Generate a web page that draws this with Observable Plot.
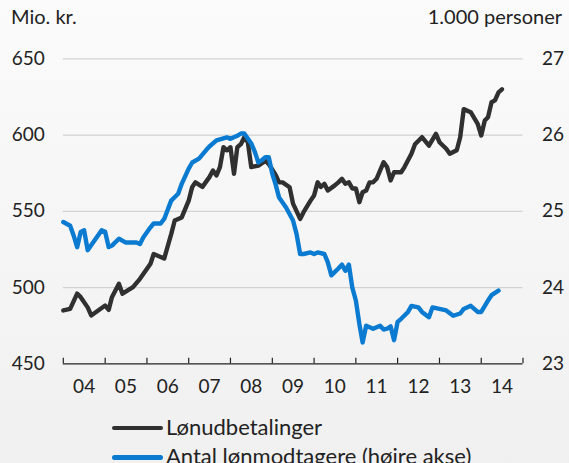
<!DOCTYPE html>
<html>
<head>
<meta charset="utf-8">
<script src="https://cdn.jsdelivr.net/npm/d3@7"></script>
<script src="https://cdn.jsdelivr.net/npm/@observablehq/plot@0.6"></script>
<style>
html, body { margin: 0; padding: 0; }
body {
  width: 569px; height: 463px; overflow: hidden;
  background: linear-gradient(#fbfbfb, #f0f0f0);
  font-family: Lato, "Open Sans", sans-serif; color: #222;
}
#head { position: relative; height: 36px; font-size: 20px; }
#head .l { position: absolute; left: 11px; top: 4px; }
#head .r { position: absolute; right: 7px; top: 4px; }
#chart svg { display: block; }
#legend { position: relative; font-size: 22px; }
.item { position: absolute; left: 0; height: 30px; width: 569px; }
.sw { position: absolute; left: 112px; width: 51px; height: 4.6px; border-radius: 3px; }
.lt { position: absolute; left: 166px; white-space: nowrap; line-height: 1; }
</style>
</head>
<body>
<div id="head"><span class="l">Mio. kr.</span><span class="r">1.000 personer</span></div>
<div id="chart"></div>
<div id="legend"></div>
<script>
// Lønudbetalinger (mio. kr., venstre akse)
const wageDates = ["2004-01","2004-03","2004-05","2004-06","2004-08","2004-09","2004-11",
"2005-01","2005-02","2005-03","2005-05","2005-06","2005-09","2005-11",
"2006-02","2006-03","2006-06","2006-08","2006-09","2006-11",
"2007-01","2007-02","2007-03","2007-05","2007-07","2007-08","2007-09","2007-10","2007-11","2007-12",
"2008-01","2008-02","2008-03","2008-04","2008-05","2008-06","2008-07","2008-09","2008-11","2008-12",
"2009-02","2009-03","2009-04","2009-06","2009-07","2009-09","2009-10","2009-12",
"2010-01","2010-02","2010-03","2010-04","2010-05","2010-07","2010-08","2010-09","2010-10","2010-11","2010-12",
"2011-01","2011-02","2011-03","2011-04","2011-05","2011-06","2011-07","2011-09","2011-10","2011-11","2011-12",
"2012-02","2012-03","2012-05","2012-06","2012-08","2012-10","2012-12",
"2013-01","2013-03","2013-04","2013-06","2013-07","2013-08","2013-10","2013-12",
"2014-01","2014-02","2014-03","2014-04","2014-05","2014-06","2014-07"];
const wageValues = [485,486,496,493.7,487,481.7,485,
488.2,485.4,493.7,502.5,496,500.3,505.7,
515.6,522,519,535,544,546,
557,566,569,566,572.4,576.8,573.5,579,592,590,
592,574.6,592,594,598.6,595.3,579,580,583,581,
573.5,569,569,565.8,555,545,549.4,557,
560.4,569,566,568,563.6,567,569,571.3,568,569,565,
565,556,562.5,563.6,569,569,571.3,582.2,579,570.2,575.6,
575.6,579,587.7,594,598.6,593,600.8,
595.3,591,587.7,590,598.6,617,615,607.4,
599.7,609.5,611.7,621.5,622.7,628,630];

// Antal lønmodtagere (1.000 personer, højre akse)
const empDates = ["2004-01","2004-03","2004-04","2004-05","2004-06","2004-07","2004-08","2004-10","2004-12",
"2005-01","2005-02","2005-03","2005-05","2005-07","2005-10","2005-11","2005-12",
"2006-02","2006-03","2006-05","2006-06","2006-08","2006-10","2006-11",
"2007-01","2007-02","2007-04","2007-06","2007-07","2007-09","2007-12",
"2008-01","2008-03","2008-04","2008-05","2008-07","2008-08","2008-09","2008-10","2008-11","2008-12",
"2009-01","2009-02","2009-03","2009-05","2009-07","2009-08","2009-09","2009-10","2009-12",
"2010-01","2010-02","2010-04","2010-05","2010-06","2010-08","2010-09","2010-10","2010-11","2010-12",
"2011-01","2011-02","2011-03","2011-04","2011-06","2011-08","2011-09","2011-10","2011-11","2011-12",
"2012-01","2012-02","2012-04","2012-05","2012-07","2012-08","2012-10","2012-11",
"2013-01","2013-03","2013-05","2013-07","2013-08","2013-10","2013-12",
"2014-01","2014-03","2014-04","2014-06"];
const empValues = [24.86,24.81,24.68,24.53,24.73,24.75,24.49,24.62,24.75,
24.73,24.53,24.55,24.64,24.59,24.59,24.57,24.66,
24.79,24.84,24.84,24.90,25.14,25.23,25.36,
25.56,25.64,25.69,25.80,25.85,25.93,25.97,
25.95,25.99,26.02,26.02,25.89,25.78,25.64,25.67,25.71,25.71,
25.49,25.34,25.18,25.05,24.88,24.70,24.44,24.44,24.46,
24.44,24.46,24.44,24.33,24.16,24.25,24.30,24.22,24.30,24.00,
23.83,23.52,23.28,23.50,23.46,23.50,23.45,23.46,23.49,23.31,
23.55,23.59,23.68,23.76,23.74,23.68,23.61,23.74,
23.72,23.70,23.63,23.66,23.72,23.76,23.68,
23.68,23.83,23.90,23.96];

const leftTicks = [450, 500, 550, 600, 650];
const rightTicks = [23, 24, 25, 26, 27];
const yearLabels = ["04","05","06","07","08","09","10","11","12","13","14"];
const seriesNames = ["Lønudbetalinger", "Antal lønmodtagere (højre akse)"];
const seriesColors = ["#303030", "#0a7bd0"];

const parse = d3.utcParse("%Y-%m");
const wage = wageDates.map((d, i) => ({date: parse(d), value: wageValues[i]}));
const emp = empDates.map((d, i) => ({date: parse(d), value: empValues[i]}));
const rightToLeft = d3.scaleLinear([rightTicks[0], rightTicks[rightTicks.length - 1]],
                                   [leftTicks[0], leftTicks[leftTicks.length - 1]]);
const firstYear = 2004;
const yearStarts = d3.range(firstYear, firstYear + yearLabels.length + 1).map(y => new Date(Date.UTC(y, 0, 1)));
const yearMids = yearLabels.map((_, i) => new Date(Date.UTC(firstYear + i, 6, 1)));

const chart = Plot.plot({
  width: 569,
  height: 364,
  marginTop: 22.3,
  marginBottom: 36.7,
  marginLeft: 62.8,
  marginRight: 46.5,
  style: {fontSize: "19px", fontFamily: "Lato, 'Open Sans', sans-serif", color: "#222", background: "transparent", overflow: "visible"},
  x: {type: "utc", domain: [yearStarts[0], yearStarts[yearStarts.length - 1]]},
  y: {domain: [leftTicks[0], leftTicks[leftTicks.length - 1]]},
  marks: [
    Plot.ruleY(leftTicks.slice(1), {stroke: "#d2d2d2", strokeWidth: 1.3}),
    Plot.axisY(leftTicks, {anchor: "left", tickSize: 0, tickPadding: 18.5, label: null}),
    Plot.axisY(rightTicks.map(rightToLeft), {anchor: "right", tickSize: 0, tickPadding: 19, label: null,
      tickFormat: d => String(Math.round(rightToLeft.invert(d)))}),
    Plot.axisX(yearMids, {anchor: "bottom", tickSize: 0, tickPadding: 16, label: null,
      tickFormat: (d, i) => yearLabels[i]}),
    Plot.line(wage, {x: "date", y: "value", stroke: seriesColors[0], strokeWidth: 4.4}),
    Plot.line(emp, {x: "date", y: d => rightToLeft(d.value), stroke: seriesColors[1], strokeWidth: 4.4}),
    Plot.ruleX(yearStarts, {y1: leftTicks[0], y2: leftTicks[0] + 3.7, stroke: "#222", strokeWidth: 1.2}),
    Plot.ruleY([leftTicks[0]], {stroke: "#222", strokeWidth: 1.2})
  ]
});
document.getElementById("chart").appendChild(chart);

const legend = document.getElementById("legend");
seriesNames.forEach((name, i) => {
  const item = document.createElement("div");
  item.className = "item";
  item.style.top = (i * 29.5) + "px";
  const sw = document.createElement("div");
  sw.className = "sw";
  sw.style.background = seriesColors[i];
  sw.style.top = "25.5px";
  const t = document.createElement("div");
  t.className = "lt";
  t.style.top = "15.5px";
  t.textContent = name;
  item.appendChild(sw);
  item.appendChild(t);
  legend.appendChild(item);
});
</script>
</body>
</html>
